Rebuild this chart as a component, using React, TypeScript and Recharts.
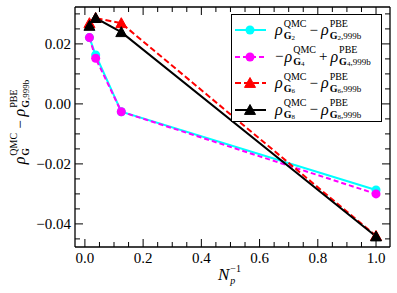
import { LineChart, Line, XAxis, YAxis, Legend } from 'recharts'

// inverse number of particles
const invNp = [0.0156, 0.037, 0.125, 1.0]

const g2 = [0.0221, 0.0163, -0.0026, -0.0287]
const g4 = [0.0221, 0.0152, -0.0026, -0.03]
const g6 = [0.0269, 0.0286, 0.0269, -0.044]
const g8 = [0.026, 0.0286, 0.0239, -0.0442]

const xTicks = [0, 0.05, 0.1, 0.15, 0.2, 0.25, 0.3, 0.35, 0.4, 0.45, 0.5, 0.55, 0.6, 0.65, 0.7, 0.75, 0.8, 0.85, 0.9, 0.95, 1.0]
const xMajor = [0, 0.2, 0.4, 0.6, 0.8, 1.0]
const xTickLabels = ['0.0', '0.2', '0.4', '0.6', '0.8', '1.0']

const yTicks = [-0.045, -0.04, -0.035, -0.03, -0.025, -0.02, -0.015, -0.01, -0.005, 0, 0.005, 0.01, 0.015, 0.02, 0.025, 0.03]
const yMajor = [-0.04, -0.02, 0, 0.02]
const yTickLabels = ['−0.04', '−0.02', '0.00', '0.02']

const data = invNp.map((x, i) => ({ x, g2: g2[i], g4: g4[i], g6: g6[i], g8: g8[i] }))

const FONT = '"Liberation Serif", serif'
const MAJ = 8
const MIN = 5

const idxOf = (arr: number[], v: number) => arr.findIndex((a) => Math.abs(a - v) < 1e-9)

function XTick({ x, y, payload, top }: any) {
  const i = idxOf(xMajor, payload.value)
  const len = i >= 0 ? MAJ : MIN
  const dir = top ? 1 : -1
  return (
    <g>
      <line x1={x} y1={y} x2={x} y2={y + dir * len} stroke="#000" strokeWidth={1} />
      {!top && i >= 0 && (
        <text x={x} y={y + 16} textAnchor="middle" fontFamily={FONT} fontSize={15} fill="#000">
          {xTickLabels[i]}
        </text>
      )}
    </g>
  )
}

function YTick({ x, y, payload, right }: any) {
  const i = idxOf(yMajor, payload.value)
  const len = i >= 0 ? MAJ : MIN
  const dir = right ? -1 : 1
  return (
    <g>
      <line x1={x} y1={y} x2={x + dir * len} y2={y} stroke="#000" strokeWidth={1} />
      {!right && i >= 0 && (
        <text x={x - 4} y={y + 5} textAnchor="end" fontFamily={FONT} fontSize={15} fill="#000">
          {yTickLabels[i]}
        </text>
      )}
    </g>
  )
}

function Tri({ cx, cy, color }: any) {
  const s = 5.5
  return <path d={`M${cx},${cy - s} L${cx + s},${cy + s * 0.8} L${cx - s},${cy + s * 0.8} Z`} fill={color} stroke={color} />
}

// rho with stacked super / subscripts
function Rho({ sup, num, tail }: { sup: string; num?: string; tail?: string }) {
  return (
    <span style={{ display: 'inline-flex', alignItems: 'center' }}>
      <span style={{ fontStyle: 'italic', fontSize: 16 }}>ρ</span>
      <span style={{ display: 'inline-flex', flexDirection: 'column', fontSize: 10, lineHeight: '10px', marginLeft: 1 }}>
        <span>{sup}</span>
        <span style={{ marginTop: 2 }}>
          <b>G</b>
          {num && <span style={{ fontSize: 7, position: 'relative', top: 1 }}>{num}</span>}
          {tail && <span style={{ fontSize: 9 }}>{tail}</span>}
        </span>
      </span>
    </span>
  )
}

const legendItems = [
  { key: 'g2', color: '#00ffff', dash: undefined, tri: false, neg: false, n: '2' },
  { key: 'g4', color: '#ff00ff', dash: '5 3', tri: false, neg: true, n: '4' },
  { key: 'g6', color: '#ff0000', dash: '6 3', tri: true, neg: false, n: '6' },
  { key: 'g8', color: '#000000', dash: undefined, tri: true, neg: false, n: '8' },
]

function LegendBox() {
  return (
    <div style={{ border: '1.3px solid #000', background: '#fff', width: 151, height: 108, boxSizing: 'border-box', fontFamily: FONT, paddingTop: 2 }}>
      {legendItems.map((it) => (
        <div key={it.key} style={{ display: 'flex', alignItems: 'center', height: 26.5 }}>
          <svg width={40} height={14} style={{ flex: 'none' }}>
            <line x1={3} y1={7} x2={34} y2={7} stroke={it.color} strokeWidth={2} strokeDasharray={it.dash} />
            {it.tri ? <Tri cx={18} cy={7} color={it.color} /> : <circle cx={18} cy={7} r={4.5} fill={it.color} />}
          </svg>
          <span style={{ display: 'inline-flex', alignItems: 'center', fontSize: 15, marginLeft: 3, whiteSpace: 'nowrap' }}>
            {it.neg && <span style={{ marginRight: 1 }}>−</span>}
            <Rho sup="QMC" num={it.n} />
            <span style={{ margin: '0 3px' }}>{it.neg ? '+' : '−'}</span>
            <Rho sup="PBE" num={it.n} tail=",999b" />
          </span>
        </div>
      ))}
    </div>
  )
}

export default function App() {
  return (
    <div style={{ position: 'absolute', left: 0, top: 0, width: 397, height: 293, background: '#fff', fontFamily: FONT }}>
      <LineChart width={397} height={293} data={data} margin={{ top: 6, right: 6, bottom: 6, left: 15 }}>
        <XAxis
          dataKey="x"
          type="number"
          domain={[-0.034, 1.048]}
          allowDataOverflow
          ticks={xTicks}
          interval={0}
          tickSize={0}
          tickMargin={0}
          tickLine={false}
          height={40}
          axisLine={{ stroke: '#000', strokeWidth: 1.3 }}
          tick={<XTick />}
        />
        <XAxis
          xAxisId="top"
          orientation="top"
          dataKey="x"
          type="number"
          domain={[-0.034, 1.048]}
          allowDataOverflow
          ticks={xTicks}
          interval={0}
          tickSize={0}
          tickMargin={0}
          tickLine={false}
          height={1}
          axisLine={{ stroke: '#000', strokeWidth: 1.3 }}
          tick={<XTick top />}
        />
        <YAxis
          type="number"
          domain={[-0.0477, 0.0323]}
          allowDataOverflow
          ticks={yTicks}
          interval={0}
          tickSize={0}
          tickMargin={0}
          tickLine={false}
          width={60}
          axisLine={{ stroke: '#000', strokeWidth: 1.3 }}
          tick={<YTick />}
        />
        <YAxis
          yAxisId="right"
          orientation="right"
          type="number"
          domain={[-0.0477, 0.0323]}
          allowDataOverflow
          ticks={yTicks}
          interval={0}
          tickSize={0}
          tickMargin={0}
          tickLine={false}
          width={1}
          axisLine={{ stroke: '#000', strokeWidth: 1.3 }}
          tick={<YTick right />}
        />
        <Line dataKey="g2" stroke="#00ffff" strokeWidth={2} dot={{ r: 4.5, fill: '#00ffff', stroke: '#00ffff', strokeWidth: 0 }} isAnimationActive={false} />
        <Line dataKey="g4" stroke="#ff00ff" strokeWidth={2} strokeDasharray="5 3" dot={{ r: 4.5, fill: '#ff00ff', stroke: '#ff00ff', strokeWidth: 0, strokeDasharray: '' }} isAnimationActive={false} />
        <Line
          dataKey="g6"
          stroke="#ff0000"
          strokeWidth={2}
          strokeDasharray="6 3"
          dot={(p: any) => <Tri key={`g6-${p.index}`} cx={p.cx} cy={p.cy} color="#ff0000" />}
          isAnimationActive={false}
        />
        <Line
          dataKey="g8"
          stroke="#000000"
          strokeWidth={2}
          dot={(p: any) => <Tri key={`g8-${p.index}`} cx={p.cx} cy={p.cy} color="#000000" />}
          isAnimationActive={false}
        />
        <Legend
          layout="vertical"
          align="center"
          verticalAlign="middle"
          wrapperStyle={{ left: 231, top: 14, width: 151, height: 108 }}
          content={() => <LegendBox />}
        />
      </LineChart>
      {/* y axis label */}
      <div
        style={{
          position: 'absolute',
          left: 20,
          top: 122,
          transform: 'translate(-50%, -50%) rotate(-90deg)',
          whiteSpace: 'nowrap',
          display: 'inline-flex',
          alignItems: 'center',
          fontSize: 15,
        }}
      >
        <Rho sup="QMC" />
        <span style={{ margin: '0 4px' }}>−</span>
        <Rho sup="PBE" tail=",999b" />
      </div>
      {/* x axis label */}
      <div style={{ position: 'absolute', left: 218, top: 264, display: 'inline-flex', alignItems: 'center', fontSize: 17 }}>
        <span style={{ fontStyle: 'italic' }}>N</span>
        <span style={{ display: 'inline-flex', flexDirection: 'column', fontSize: 10, lineHeight: '10px', marginLeft: 1 }}>
          <span>−1</span>
          <span style={{ fontStyle: 'italic', marginTop: 2 }}>p</span>
        </span>
      </div>
    </div>
  )
}
